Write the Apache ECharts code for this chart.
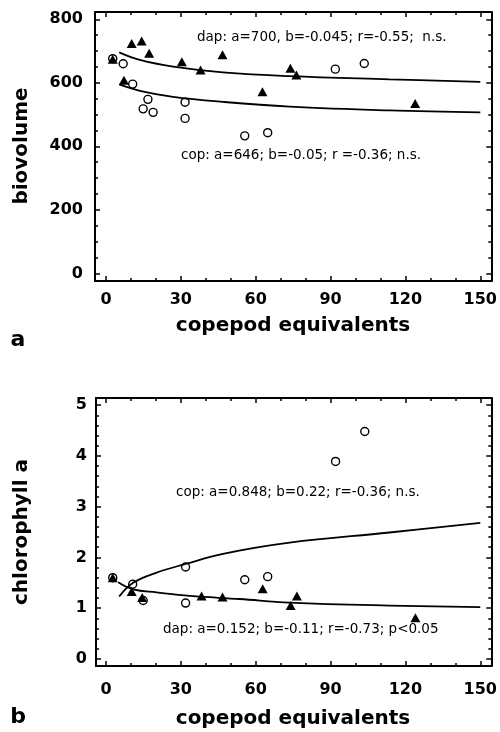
<!DOCTYPE html>
<html><head><meta charset="utf-8">
<script src="https://cdn.jsdelivr.net/npm/echarts@6/dist/echarts.min.js"></script>
<style>html,body{margin:0;padding:0;background:#fff}#c{width:500px;height:732px}</style>
</head><body><div id="c"></div>
<script>
// tick values
const xLabelValues = [0, 30, 60, 90, 120, 150];
const xMinorValues = [10, 20, 40, 50, 70, 80, 100, 110, 130, 140];
const bioLabelValues = [0, 200, 400, 600, 800];
const bioMinorValues = [50, 100, 150, 250, 300, 350, 450, 500, 550, 650, 700, 750];
const chlLabelValues = [0, 1, 2, 3, 4, 5];
const chlMinorValues = [0.2, 0.4, 0.6, 0.8, 1.2, 1.4, 1.6, 1.8, 2.2, 2.4, 2.6, 2.8, 3.2, 3.4, 3.6, 3.8, 4.2, 4.4, 4.6, 4.8];

// panel a: biovolume
const bioDapX = [2.7, 10.3, 14.3, 17.3, 7.2, 30.4, 37.9, 46.7, 62.7, 73.9, 76.3, 123.9];
const bioDapY = [674, 724, 732, 693, 608, 666, 640, 688, 572, 646, 625, 535];
const bioCopX = [2.7, 6.9, 10.7, 16.8, 14.9, 18.9, 31.7, 31.7, 55.6, 64.8, 91.9, 103.5];
const bioCopY = [676, 660, 596, 548, 518, 507, 539, 488, 433, 443, 643, 661];
const bioCurveX = [5.3, 13.6, 26.9, 46.9, 73.6, 113.6, 150];
const bioDapCurveY = [696, 672, 651, 633, 621, 611, 603];
const bioCopCurveY = [595, 575, 556, 540, 525, 513, 507];

// panel b: chlorophyll a
const chlDapX = [2.7, 10.3, 14.5, 38.3, 46.7, 62.8, 74, 76.5, 124];
const chlDapY = [1.60, 1.33, 1.21, 1.24, 1.22, 1.38, 1.05, 1.24, 0.81];
const chlCopX = [2.7, 10.7, 14.9, 31.9, 31.9, 55.6, 64.8, 92, 103.7];
const chlCopY = [1.60, 1.47, 1.15, 1.81, 1.10, 1.56, 1.62, 3.89, 4.48];
const chlCopCurveX = [5.3, 10.9, 20.3, 31.9, 46.9, 73.6, 113.6, 150];
const chlCopCurveY = [1.23, 1.50, 1.70, 1.87, 2.07, 2.29, 2.49, 2.68];
const chlDapCurveX = [4.9, 10.9, 20.3, 33.6, 53.6, 73.6, 113.6, 150];
const chlDapCurveY = [1.51, 1.37, 1.31, 1.24, 1.18, 1.11, 1.05, 1.02];

const annBioDap = 'dap: a=700, b=-0.045; r=-0.55;  n.s.';
const annBioCop = 'cop: a=646; b=-0.05; r =-0.36; n.s.';
const annChlCop = 'cop: a=0.848; b=0.22; r=-0.36; n.s.';
const annChlDap = 'dap: a=0.152; b=-0.11; r=-0.73; p<0.05';

const FONT = 'DejaVu Sans';
const zip = (xs, ys) => xs.map((x, i) => [x, ys[i]]);

function axisSet(kind, grid, min, max, majors, minors, labelMargin) {
  const posA = kind === 'x' ? 'bottom' : 'left';
  const posB = kind === 'x' ? 'top' : 'right';
  const base = (pos, vals, len, showLine, showLabel) => ({
    type: 'value', gridIndex: grid, position: pos, min, max,
    axisLine: { show: showLine, onZero: false, lineStyle: { color: '#000', width: 2 } },
    axisTick: { show: true, inside: true, length: len, customValues: vals, lineStyle: { color: '#000', width: 1.5 } },
    axisLabel: showLabel ? { show: true, customValues: vals, margin: labelMargin, color: '#000', fontFamily: FONT, fontWeight: 'bold', fontSize: 16 } : { show: false },
    splitLine: { show: false }
  });
  return [
    base(posA, majors, 5, true, true),
    base(posA, minors, 3, false, false),
    base(posB, majors, 5, true, false),
    base(posB, minors, 3, false, false)
  ];
}

const circleStyle = { color: 'rgba(255,255,255,0)', borderColor: '#000', borderWidth: 1.4, opacity: 1 };
const triStyle = { color: '#000', opacity: 1 };
const lineStyle = { color: '#000', width: 1.8 };

function scatterCircle(xi, yi, data) {
  return { type: 'scatter', xAxisIndex: xi, yAxisIndex: yi, data, symbol: 'circle', symbolSize: 8, itemStyle: circleStyle, z: 3 };
}
function scatterTri(xi, yi, data) {
  return { type: 'scatter', xAxisIndex: xi, yAxisIndex: yi, data, symbol: 'triangle', symbolSize: [10, 9], itemStyle: triStyle, z: 4 };
}
function curve(xi, yi, data) {
  return { type: 'line', xAxisIndex: xi, yAxisIndex: yi, data, smooth: 0.4, showSymbol: false, symbol: 'none', lineStyle, z: 2 };
}

function txt(text, x, y, opts) {
  return Object.assign({ type: 'text', x, y, style: Object.assign({ text, fill: '#000', font: '13.5px "' + FONT + '"', align: 'left', verticalAlign: 'middle' }, opts && opts.style || {}) }, opts && opts.extra || {});
}

const option = {
  animation: false,
  backgroundColor: '#fff',
  grid: [
    { left: 95, top: 12, width: 397, height: 269 },
    { left: 96, top: 398, width: 396, height: 268 }
  ],
  xAxis: [
    ...axisSet('x', 0, -4.4, 154.4, xLabelValues, xMinorValues, 11),
    ...axisSet('x', 1, -4.0, 154.4, xLabelValues, xMinorValues, 16)
  ],
  yAxis: [
    ...axisSet('y', 0, -24, 823, bioLabelValues, bioMinorValues, 12),
    ...axisSet('y', 1, -0.14, 5.14, chlLabelValues, chlMinorValues, 9)
  ],
  series: [
    curve(0, 0, zip(bioCurveX, bioDapCurveY)),
    curve(0, 0, zip(bioCurveX, bioCopCurveY)),
    scatterCircle(0, 0, zip(bioCopX, bioCopY)),
    scatterTri(0, 0, zip(bioDapX, bioDapY)),
    curve(4, 4, zip(chlCopCurveX, chlCopCurveY)),
    curve(4, 4, zip(chlDapCurveX, chlDapCurveY)),
    scatterCircle(4, 4, zip(chlCopX, chlCopY)),
    scatterTri(4, 4, zip(chlDapX, chlDapY))
  ],
  graphic: [
    txt(annBioDap, 197, 37),
    txt(annBioCop, 181, 155),
    txt(annChlCop, 176, 492),
    txt(annChlDap, 163, 629),
    txt('biovolume', 22, 146, { style: { font: 'bold 20px "' + FONT + '"', align: 'center' }, extra: { rotation: Math.PI / 2 } }),
    txt('chlorophyll a', 22, 532, { style: { font: 'bold 20px "' + FONT + '"', align: 'center' }, extra: { rotation: Math.PI / 2 } }),
    txt('copepod equivalents', 293, 326, { style: { font: 'bold 20px "' + FONT + '"', align: 'center' } }),
    txt('copepod equivalents', 293, 719, { style: { font: 'bold 20px "' + FONT + '"', align: 'center' } }),
    txt('a', 18, 340, { style: { font: 'bold 22px "' + FONT + '"', align: 'center' } }),
    txt('b', 18, 717, { style: { font: 'bold 22px "' + FONT + '"', align: 'center' } })
  ]
};

const chart = echarts.init(document.getElementById('c'), null, { renderer: 'canvas' });
chart.setOption(option);
</script>
</body></html>
